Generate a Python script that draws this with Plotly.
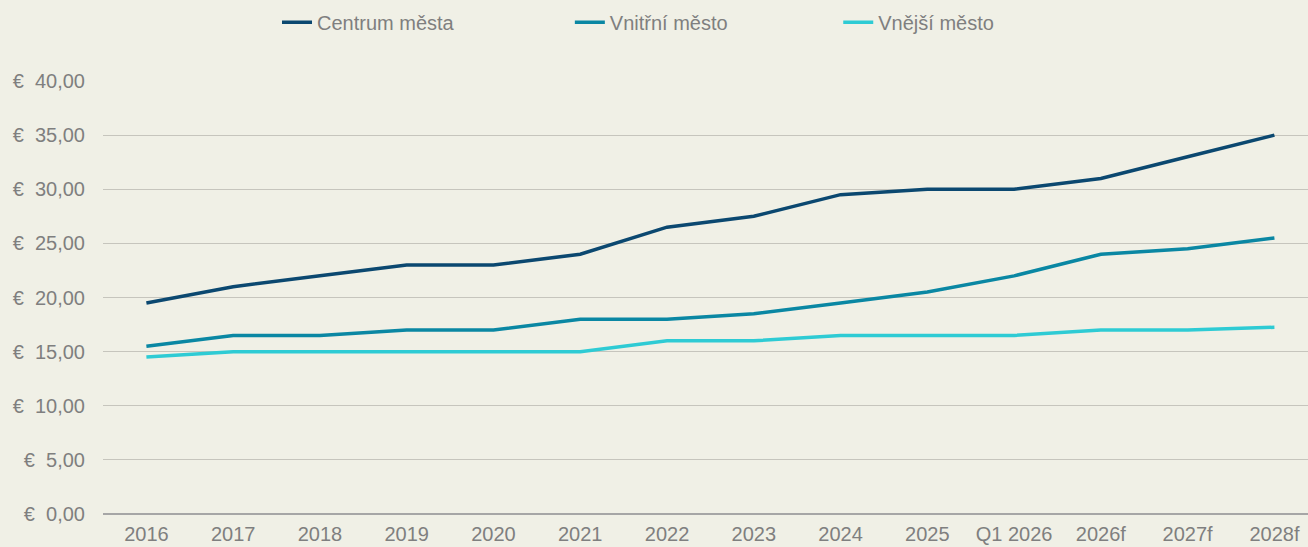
import plotly.graph_objects as go

categories = ["2016", "2017", "2018", "2019", "2020", "2021", "2022", "2023",
              "2024", "2025", "Q1 2026", "2026f", "2027f", "2028f"]
centrum = [19.5, 21.0, 22.0, 23.0, 23.0, 24.0, 26.5, 27.5, 29.5, 30.0, 30.0, 31.0, 33.0, 35.0]
vnitrni = [15.5, 16.5, 16.5, 17.0, 17.0, 18.0, 18.0, 18.5, 19.5, 20.5, 22.0, 24.0, 24.5, 25.5]
vnejsi = [14.5, 15.0, 15.0, 15.0, 15.0, 15.0, 16.0, 16.0, 16.5, 16.5, 16.5, 17.0, 17.0, 17.25]

series_names = ["Centrum města", "Vnitřní město", "Vnější město"]
series_colors = ["#0B4870", "#0A87A3", "#2ECBD4"]

y_tickvals = [0, 5, 10, 15, 20, 25, 30, 35, 40]
y_ticktext = ["€  0,00", "€  5,00", "€  10,00", "€  15,00", "€  20,00",
              "€  25,00", "€  30,00", "€  35,00", "€  40,00"]

BG = "#F0F0E6"
TXT = "#7F7F7F"
FONT = "Liberation Sans, Arial, sans-serif"

fig = go.Figure()
pads = ["\u00a0" * 20, "\u00a0" * 19, ""]
for name, vals, col, pad in zip(series_names, [centrum, vnitrni, vnejsi], series_colors, pads):
    fig.add_trace(go.Scatter(
        x=list(range(len(categories))), y=vals, mode="lines", name=name + pad,
        line=dict(color=col, width=3.5),
    ))

fig.update_layout(
    width=1308, height=547,
    paper_bgcolor=BG, plot_bgcolor=BG,
    margin=dict(l=103, r=0, t=81, b=33, autoexpand=False),
    font=dict(family=FONT, size=20, color=TXT),
    showlegend=True,
    legend=dict(orientation="h", x=277 / 1308, xanchor="left", xref="container",
                y=0.995, yanchor="top", yref="container",
                font=dict(size=20, color=TXT),
                bgcolor="rgba(0,0,0,0)", itemwidth=30),
    xaxis=dict(
        tickmode="array", tickvals=list(range(len(categories))), ticktext=categories,
        range=[-0.5, 13.387], showgrid=False, zeroline=False, showline=False,
        ticks="", tickfont=dict(size=20, color=TXT), automargin=False,
        ticklabelstandoff=6,
    ),
    yaxis=dict(
        tickmode="array", tickvals=y_tickvals, ticktext=y_ticktext,
        range=[0, 40], showgrid=True, gridcolor="#C6C5BD", gridwidth=1.3,
        zeroline=True, zerolinecolor="#A6A6A6", zerolinewidth=1.5,
        showline=False, ticks="", tickfont=dict(size=20, color=TXT),
        ticklabelstandoff=17, automargin=False,
    ),
)

fig.write_html("out.html", config={"displayModeBar": False},
               post_script="document.body.style.margin='0';document.body.style.background='#F0F0E6';")
